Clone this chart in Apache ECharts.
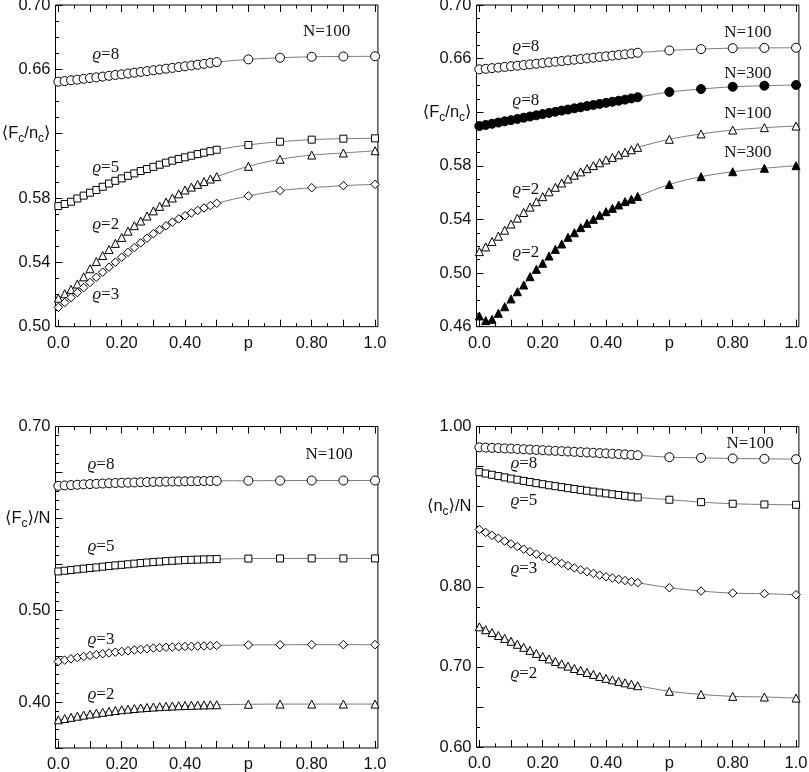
<!DOCTYPE html>
<html>
<head>
<meta charset="utf-8">
<script src="https://cdn.jsdelivr.net/npm/echarts@6.0.0/dist/echarts.min.js"></script>
<style>
html,body{margin:0;padding:0;background:#fff;}
#container{width:809px;height:772px;}
</style>
</head>
<body>
<div id="container"></div>
<script>
// p values shared by every curve
var pValues = [0,0.02,0.04,0.06,0.08,0.10,0.12,0.14,0.16,0.18,0.20,0.22,0.24,0.26,0.28,0.30,0.32,0.34,0.36,0.38,0.40,0.42,0.44,0.46,0.48,0.50,0.60,0.70,0.80,0.90,1.00];

// panel 1 : <Fc/nc>, N=100
var fcnc_r8 = [0.6523,0.6527,0.6532,0.6536,0.6541,0.6546,0.6550,0.6555,0.6560,0.6565,0.6569,0.6574,0.6579,0.6584,0.6589,0.6594,0.6599,0.6604,0.6609,0.6614,0.6619,0.6624,0.6629,0.6634,0.6640,0.6645,0.6662,0.6672,0.6678,0.6680,0.6681];
var fcnc_r5 = [0.5750,0.5763,0.5777,0.5797,0.5815,0.5833,0.5850,0.5870,0.5890,0.5907,0.5922,0.5938,0.5953,0.5968,0.5980,0.5994,0.6007,0.6020,0.6032,0.6043,0.6053,0.6063,0.6073,0.6082,0.6091,0.6100,0.6130,0.6150,0.6163,0.6169,0.6171];
var fcnc_r2 = [0.5177,0.5205,0.5232,0.5265,0.5310,0.5360,0.5405,0.5442,0.5480,0.5518,0.5555,0.5594,0.5628,0.5657,0.5688,0.5720,0.5748,0.5775,0.5800,0.5826,0.5850,0.5868,0.5885,0.5902,0.5918,0.5933,0.5997,0.6041,0.6067,0.6080,0.6094];
var fcnc_r3 = [0.5120,0.5150,0.5181,0.5212,0.5243,0.5275,0.5307,0.5339,0.5370,0.5401,0.5432,0.5462,0.5492,0.5521,0.5550,0.5578,0.5603,0.5627,0.5650,0.5670,0.5690,0.5707,0.5723,0.5738,0.5753,0.5767,0.5813,0.5846,0.5864,0.5877,0.5885];

// panel 2 : <Fc/nc>, N=100 and N=300
var fcnc_r8_n100 = [0.6520,0.6524,0.6529,0.6533,0.6538,0.6543,0.6547,0.6552,0.6557,0.6562,0.6567,0.6572,0.6577,0.6582,0.6587,0.6592,0.6597,0.6602,0.6607,0.6612,0.6617,0.6622,0.6627,0.6632,0.6638,0.6644,0.6661,0.6671,0.6678,0.6680,0.6681];
var fcnc_r8_n300 = [0.6097,0.6105,0.6114,0.6123,0.6132,0.6141,0.6150,0.6159,0.6168,0.6177,0.6186,0.6195,0.6203,0.6212,0.6220,0.6229,0.6237,0.6246,0.6254,0.6262,0.6270,0.6278,0.6286,0.6294,0.6303,0.6312,0.6351,0.6373,0.6390,0.6398,0.6403];
var fcnc_r2_n100 = [0.5160,0.5195,0.5235,0.5275,0.5320,0.5366,0.5410,0.5452,0.5492,0.5532,0.5570,0.5606,0.5640,0.5672,0.5702,0.5730,0.5755,0.5779,0.5802,0.5823,0.5844,0.5863,0.5882,0.5901,0.5920,0.5938,0.5998,0.6038,0.6067,0.6085,0.6097];
var fcnc_r2_n300 = [0.4680,0.4645,0.4655,0.4700,0.4749,0.4807,0.4861,0.4911,0.4973,0.5028,0.5073,0.5127,0.5177,0.5217,0.5267,0.5301,0.5339,0.5371,0.5401,0.5431,0.5458,0.5483,0.5508,0.5533,0.5551,0.5572,0.5661,0.5719,0.5756,0.5782,0.5801];

// panel 3 : <Fc>/N, N=100
var fcN_r8 = [0.6354,0.6358,0.6362,0.6366,0.6370,0.6373,0.6376,0.6379,0.6382,0.6385,0.6387,0.6389,0.6391,0.6393,0.6395,0.6397,0.6398,0.6400,0.6401,0.6402,0.6403,0.6404,0.6405,0.6406,0.6407,0.6408,0.6410,0.6411,0.6412,0.6412,0.6412];
var fcN_r5 = [0.5422,0.5430,0.5437,0.5445,0.5452,0.5459,0.5466,0.5474,0.5481,0.5488,0.5494,0.5500,0.5507,0.5513,0.5519,0.5524,0.5529,0.5534,0.5538,0.5542,0.5546,0.5549,0.5551,0.5553,0.5555,0.5557,0.5562,0.5563,0.5564,0.5564,0.5564];
var fcN_r3 = [0.4442,0.4457,0.4471,0.4484,0.4496,0.4507,0.4517,0.4526,0.4535,0.4543,0.4551,0.4559,0.4567,0.4574,0.4581,0.4588,0.4592,0.4596,0.4599,0.4602,0.4605,0.4607,0.4609,0.4611,0.4613,0.4616,0.4622,0.4624,0.4625,0.4625,0.4625];
var fcN_r2 = [0.3807,0.3821,0.3834,0.3846,0.3858,0.3869,0.3879,0.3889,0.3899,0.3908,0.3916,0.3923,0.3930,0.3936,0.3941,0.3946,0.3950,0.3954,0.3957,0.3960,0.3963,0.3965,0.3967,0.3969,0.3970,0.3971,0.3976,0.3978,0.3978,0.3978,0.3978];

// panel 4 : <nc>/N, N=100
var ncN_r8 = [0.9740,0.9737,0.9734,0.9731,0.9727,0.9724,0.9720,0.9716,0.9712,0.9708,0.9704,0.9700,0.9696,0.9692,0.9688,0.9684,0.9680,0.9676,0.9672,0.9668,0.9664,0.9660,0.9656,0.9651,0.9646,0.9641,0.9617,0.9609,0.9601,0.9597,0.9592];
var ncN_r5 = [0.9430,0.9413,0.9397,0.9381,0.9365,0.9350,0.9336,0.9321,0.9307,0.9293,0.9280,0.9267,0.9255,0.9243,0.9231,0.9220,0.9209,0.9198,0.9187,0.9176,0.9165,0.9155,0.9145,0.9135,0.9125,0.9115,0.9086,0.9056,0.9036,0.9027,0.9023];
var ncN_r3 = [0.8715,0.8678,0.8641,0.8605,0.8570,0.8535,0.8502,0.8469,0.8438,0.8407,0.8377,0.8348,0.8319,0.8291,0.8263,0.8235,0.8211,0.8188,0.8166,0.8145,0.8125,0.8109,0.8093,0.8078,0.8064,0.8050,0.7988,0.7946,0.7921,0.7913,0.7901];
var ncN_r2 = [0.7500,0.7464,0.7428,0.7391,0.7355,0.7320,0.7282,0.7244,0.7206,0.7168,0.7130,0.7099,0.7068,0.7038,0.7009,0.6980,0.6955,0.6930,0.6906,0.6881,0.6857,0.6838,0.6819,0.6801,0.6783,0.6765,0.6695,0.6657,0.6632,0.6624,0.6611];

// ticks and tick labels
var xTickMajor = [0,0.1,0.2,0.3,0.4,0.5,0.6,0.7,0.8,0.9,1.0];
var xTickMinor = [0.05,0.15,0.25,0.35,0.45,0.55,0.65,0.75,0.85,0.95];
var xLabelValues = [0,0.2,0.4,0.6,0.8,1.0];
var xLabelTexts = ['0.0','0.20','0.40','p','0.80','1.0'];

var y1Major = [0.50,0.54,0.58,0.62,0.66,0.70];
var y1Minor = [0.51,0.52,0.53,0.55,0.56,0.57,0.59,0.60,0.61,0.63,0.64,0.65,0.67,0.68,0.69];
var y1Texts = ['0.50','0.54','0.58','{a|⟨F}{s|c}{a|/n}{s|c}{a|⟩}','0.66','0.70'];

var y2Major = [0.46,0.50,0.54,0.58,0.62,0.66,0.70];
var y2Minor = [0.47,0.48,0.49,0.51,0.52,0.53,0.55,0.56,0.57,0.59,0.60,0.61,0.63,0.64,0.65,0.67,0.68,0.69];
var y2Texts = ['0.46','0.50','0.54','0.58','{a|⟨F}{s|c}{a|/n}{s|c}{a|⟩}','0.66','0.70'];

var y3Major = [0.35,0.40,0.45,0.50,0.55,0.60,0.65,0.70];
var y3Minor = [0.36,0.37,0.38,0.39,0.41,0.42,0.43,0.44,0.46,0.47,0.48,0.49,0.51,0.52,0.53,0.54,0.56,0.57,0.58,0.59,0.61,0.62,0.63,0.64,0.66,0.67,0.68,0.69];
var y3LabelValues = [0.40,0.50,0.60,0.70];
var y3Texts = ['0.40','0.50','{a|⟨F}{s|c}{a|⟩/N}','0.70'];

var y4Major = [0.60,0.65,0.70,0.75,0.80,0.85,0.90,0.95,1.00];
var y4Minor = [0.625,0.675,0.725,0.775,0.825,0.875,0.925,0.975];
var y4LabelValues = [0.60,0.70,0.80,0.90,1.00];
var y4Texts = ['0.60','0.70','0.80','{a|⟨n}{s|c}{a|⟩/N}','1.00'];

// text notes inside the panels (p, value, text)
var notes1 = [[0.15,0.669,'{i|ϱ}=8'],[0.15,0.5987,'{i|ϱ}=5'],[0.15,0.5638,'{i|ϱ}=2'],[0.15,0.5197,'{i|ϱ}=3'],[0.847,0.6838,'N=100']];
var notes2 = [[0.147,0.6687,'{i|ϱ}=8'],[0.147,0.6291,'{i|ϱ}=8'],[0.147,0.5620,'{i|ϱ}=2'],[0.147,0.5157,'{i|ϱ}=2'],
              [0.848,0.6791,'N=100'],[0.848,0.6492,'N=300'],[0.848,0.6194,'N=100'],[0.848,0.5896,'N=300']];
var notes3 = [[0.135,0.6583,'{i|ϱ}=8'],[0.135,0.5690,'{i|ϱ}=5'],[0.135,0.4678,'{i|ϱ}=3'],[0.135,0.4079,'{i|ϱ}=2'],[0.855,0.6692,'N=100']];
var notes4 = [[0.141,0.9539,'{i|ϱ}=8'],[0.141,0.9077,'{i|ϱ}=5'],[0.141,0.8229,'{i|ϱ}=3'],[0.141,0.6919,'{i|ϱ}=2'],[0.855,0.9788,'N=100']];

var SANS = '"Liberation Sans", Arial, "DejaVu Sans", sans-serif';
var SERIF = '"Liberation Serif", "Times New Roman", "DejaVu Serif", serif';
var X_MIN = -0.009, X_MAX = 1.009;

var panels = [
	{left:55.5, top:5, height:321.7, yMin:0.50, yMax:0.70, major:y1Major, minor:y1Minor, labVals:y1Major, labTexts:y1Texts, notes:notes1,
	 curves:[{d:fcnc_r8,sym:'circle',size:9,fill:'#fff'},{d:fcnc_r5,sym:'rect',size:7,fill:'#fff'},
	         {d:fcnc_r2,sym:'triangle',size:8,fill:'#fff'},{d:fcnc_r3,sym:'diamond',size:8.5,fill:'#fff'}]},
	{left:476.5, top:5, height:321.7, yMin:0.46, yMax:0.70, major:y2Major, minor:y2Minor, labVals:y2Major, labTexts:y2Texts, notes:notes2,
	 curves:[{d:fcnc_r8_n100,sym:'circle',size:9,fill:'#fff'},{d:fcnc_r8_n300,sym:'circle',size:9,fill:'#000'},
	         {d:fcnc_r2_n100,sym:'triangle',size:8,fill:'#fff'},{d:fcnc_r2_n300,sym:'triangle',size:8,fill:'#000'}]},
	{left:55.5, top:426.5, height:321.5, yMin:0.35, yMax:0.70, major:y3Major, minor:y3Minor, labVals:y3LabelValues, labTexts:y3Texts, notes:notes3,
	 curves:[{d:fcN_r8,sym:'circle',size:9,fill:'#fff'},{d:fcN_r5,sym:'rect',size:7,fill:'#fff'},
	         {d:fcN_r3,sym:'diamond',size:8.5,fill:'#fff'},{d:fcN_r2,sym:'triangle',size:8,fill:'#fff'}]},
	{left:476.5, top:426.5, height:320.5, yMin:0.60, yMax:1.00, major:y4Major, minor:y4Minor, labVals:y4LabelValues, labTexts:y4Texts, notes:notes4,
	 curves:[{d:ncN_r8,sym:'circle',size:9,fill:'#fff'},{d:ncN_r5,sym:'rect',size:7,fill:'#fff'},
	         {d:ncN_r3,sym:'diamond',size:8.5,fill:'#fff'},{d:ncN_r2,sym:'triangle',size:8,fill:'#fff'}]}
];

function pick(vals, texts) {
	return function(v) {
		for (var i = 0; i < vals.length; i++) {
			if (Math.abs(v - vals[i]) < 1e-6) return texts[i];
		}
		return '';
	};
}

var grids = [], xAxes = [], yAxes = [], series = [];
panels.forEach(function(pn, g) {
	grids.push({left:pn.left, top:pn.top, width:322.4, height:pn.height, show:true, borderColor:'#000', borderWidth:1,
		backgroundColor:'transparent', containLabel:false, outerBoundsMode:'none'});
	['bottom','top'].forEach(function(pos) {
		xAxes.push({gridIndex:g, type:'value', position:pos, min:X_MIN, max:X_MAX,
			axisLine:{show:false, onZero:false}, splitLine:{show:false},
			axisTick:{show:true, inside:true, length:7, customValues:xTickMajor, lineStyle:{color:'#000', width:1}},
			axisLabel:pos === 'bottom' ? {show:true, customValues:xLabelValues, formatter:pick(xLabelValues, xLabelTexts),
				color:'#111', fontSize:16.5, fontFamily:SANS, margin:8} : {show:false}});
		xAxes.push({gridIndex:g, type:'value', position:pos, min:X_MIN, max:X_MAX,
			axisLine:{show:false, onZero:false}, splitLine:{show:false},
			axisTick:{show:true, inside:true, length:3.5, customValues:xTickMinor, lineStyle:{color:'#000', width:1}},
			axisLabel:{show:false}});
	});
	yAxes.push({gridIndex:g, type:'value', position:'left', min:pn.yMin, max:pn.yMax,
		axisLine:{show:false, onZero:false}, splitLine:{show:false},
		axisTick:{show:true, inside:true, length:7, customValues:pn.major, lineStyle:{color:'#000', width:1}},
		axisLabel:{show:true, customValues:pn.labVals, formatter:pick(pn.labVals, pn.labTexts), color:'#111',
			fontSize:16.5, fontFamily:SANS, margin:5,
			rich:{a:{fontSize:16.5, fontFamily:SANS, color:'#111', lineHeight:22},
			      s:{fontSize:12, fontFamily:SANS, color:'#111', lineHeight:11, verticalAlign:'bottom'}}}});
	yAxes.push({gridIndex:g, type:'value', position:'left', min:pn.yMin, max:pn.yMax,
		axisLine:{show:false, onZero:false}, splitLine:{show:false},
		axisTick:{show:true, inside:true, length:3.5, customValues:pn.minor, lineStyle:{color:'#000', width:1}},
		axisLabel:{show:false}});

	pn.curves.forEach(function(c, k) {
		var s = {
			type:'line', xAxisIndex:g*4, yAxisIndex:g*2,
			data:pValues.map(function(p, i) { return [p, c.d[i]]; }),
			smooth:0.35, showAllSymbol:true, symbol:c.sym, symbolSize:c.size,
			lineStyle:{color:'#7a7a7a', width:1},
			itemStyle:{color:c.fill, borderColor:'#000', borderWidth:1},
			emphasis:{disabled:true}, animation:false, z:3
		};
		if (k === 0) {
			s.markPoint = {
				symbol:'circle', symbolSize:0, silent:true, animation:false,
				label:{show:true, position:'inside', color:'#111', fontSize:17, fontFamily:SERIF,
					formatter:function(prm) { return prm.name; },
					rich:{i:{fontStyle:'italic', fontSize:17, fontFamily:SERIF, color:'#111'}}},
				data:pn.notes.map(function(n) { return {name:n[2], coord:[n[0], n[1]]}; })
			};
		}
		series.push(s);
	});
});

var myChart = echarts.init(document.getElementById('container'), null, {renderer:'canvas'});
var option = {
	backgroundColor:'#fff',
	animation:false,
	grid:grids,
	xAxis:xAxes,
	yAxis:yAxes,
	series:series
};
myChart.setOption(option, true);
</script>
</body>
</html>
